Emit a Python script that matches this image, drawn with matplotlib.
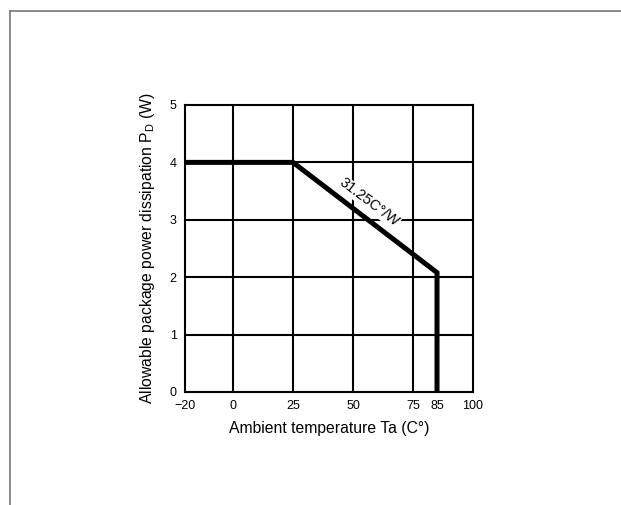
import matplotlib
matplotlib.use("Agg")
import matplotlib.pyplot as plt
from matplotlib.lines import Line2D

plt.rcParams["font.family"] = ["Liberation Sans", "DejaVu Sans"]
plt.rcParams["mathtext.fontset"] = "custom"
plt.rcParams["mathtext.rm"] = "Liberation Sans"
plt.rcParams["mathtext.it"] = "Liberation Sans:italic"

# derating curve
temp = [-20, 25, 85, 85]
power = [4, 4, 2.08, 0]
xticks = [-20, 0, 25, 50, 75, 85, 100]
yticks = [0, 1, 2, 3, 4, 5]
xgrid = [0, 25, 50, 75]
ygrid = [1, 2, 3, 4]

fig = plt.figure(figsize=(6.21, 5.05), dpi=100)
ax = fig.add_axes([0.2979, 0.2238, 0.4638, 0.5683])

for x in xgrid:
    ax.axvline(x, color="black", lw=1.5, zorder=1)
for y in ygrid:
    ax.axhline(y, color="black", lw=1.5, zorder=1)

ax.plot(temp, power, color="black", lw=3.6, solid_joinstyle="miter", zorder=3)

ax.text(56.8, 3.3, "31.25C°/W", rotation=-37, ha="center", va="center",
        fontsize=10.5, rotation_mode="anchor",
        bbox=dict(facecolor="white", edgecolor="none", pad=0.5), zorder=2)

ax.set_xlim(-20, 100)
ax.set_ylim(0, 5)
ax.set_xticks(xticks)
ax.set_yticks(yticks)
ax.tick_params(length=0, pad=6, labelsize=9)
for s in ax.spines.values():
    s.set_linewidth(1.5)

ax.set_xlabel("Ambient temperature Ta (C°)", fontsize=11.3, labelpad=6.5)
ax.set_ylabel(r"Allowable package power dissipation P$_\mathrm{D}$ (W)", fontsize=11.3, labelpad=9)

# grey frame of the surrounding page
fig.add_artist(Line2D([9.5 / 621, 9.5 / 621], [0, 1 - 10.5 / 505], color="#777777", lw=1.2))
fig.add_artist(Line2D([9.5 / 621, 1], [1 - 10.5 / 505, 1 - 10.5 / 505], color="#777777", lw=1.2))

fig.savefig("out.png", dpi=100)
